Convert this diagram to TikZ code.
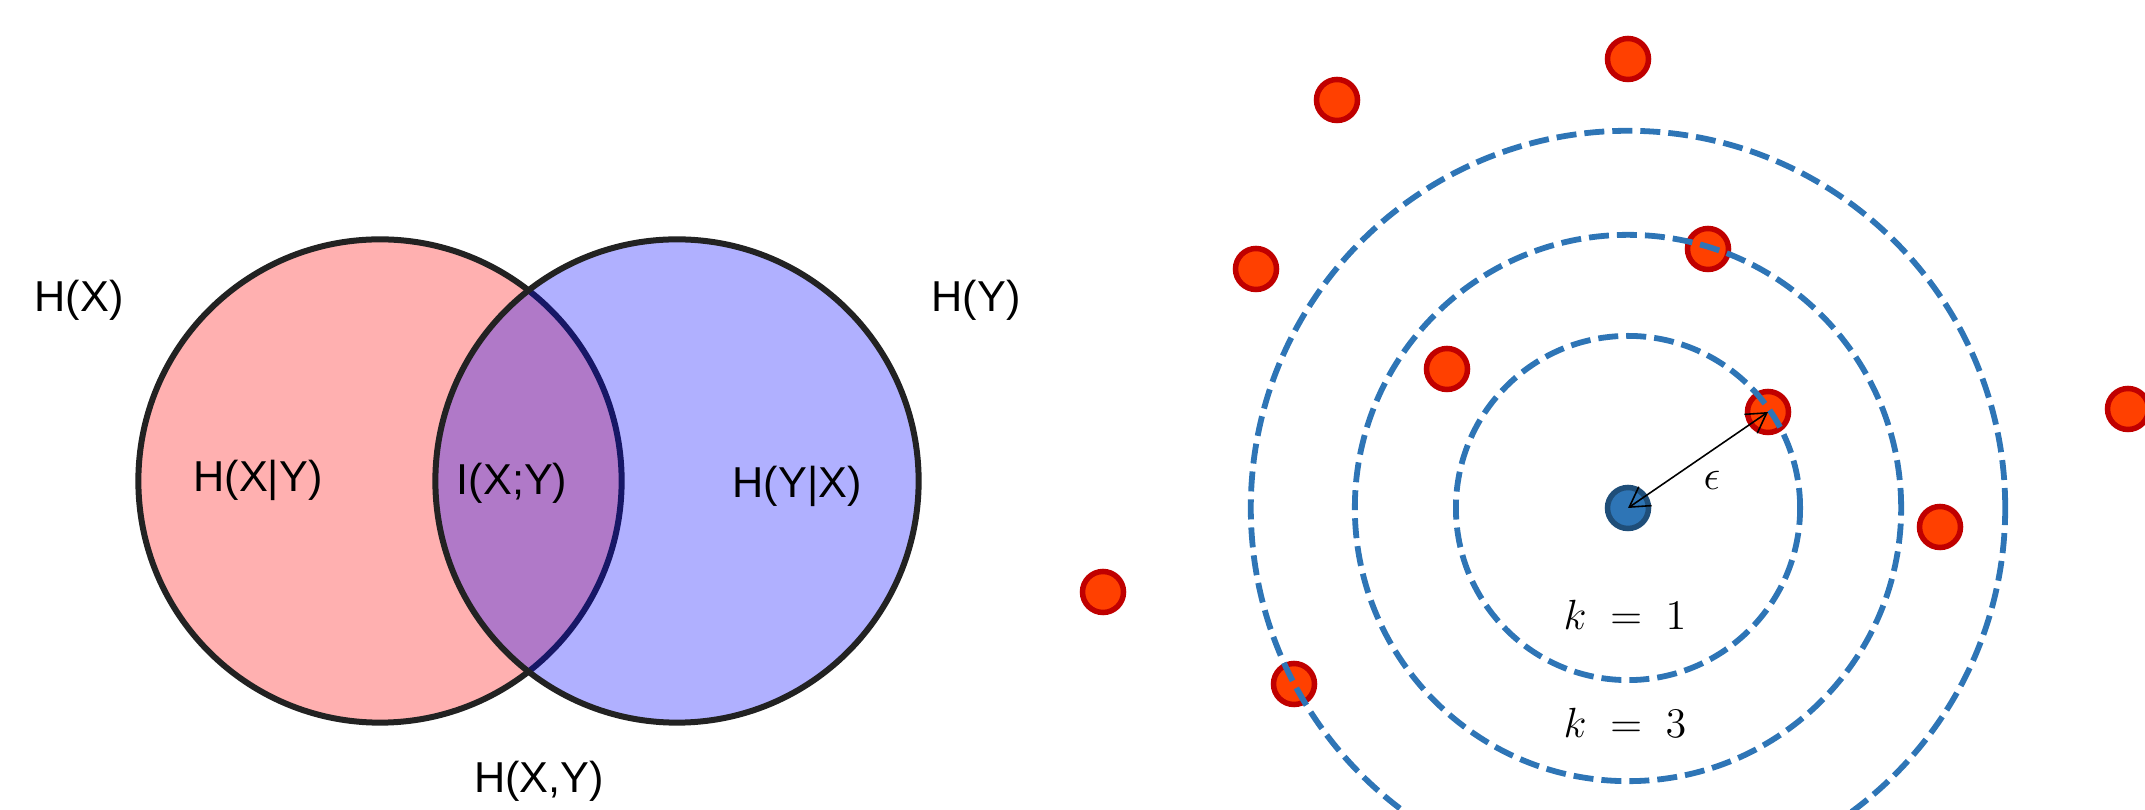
\documentclass[tikz,border=0pt]{standalone}
\usepackage{fontspec}
\setmainfont{Liberation Sans}
\usetikzlibrary{arrows.meta}
\definecolor{vennline}{RGB}{34,34,34}
\definecolor{vennpink}{RGB}{255,176,176}
\definecolor{ringblue}{RGB}{46,117,182}
\definecolor{dotred}{RGB}{255,64,0}
\definecolor{dotredborder}{RGB}{192,0,0}
\definecolor{dotblue}{RGB}{46,117,182}
\definecolor{dotblueborder}{RGB}{31,78,121}
\tikzset{
  vennL/.style={circle, minimum size=4.83cm, inner sep=0pt, fill=vennpink, draw=vennline, line width=0.06cm},
  vennR/.style={circle, minimum size=4.83cm, inner sep=0pt, fill=blue, fill opacity=0.31, draw=vennline, draw opacity=1, line width=0.06cm},
  lbl/.style={inner sep=0pt, anchor=base, font=\fontsize{12.3pt}{14pt}\selectfont},
  mlbl/.style={inner sep=0pt, anchor=base, font=\fontsize{12.6pt}{14pt}\selectfont},
  reddot/.style={circle, minimum size=0.41cm, inner sep=0pt, fill=dotred, draw=dotredborder, line width=0.055cm},
  bluedot/.style={circle, minimum size=0.41cm, inner sep=0pt, fill=dotblue, draw=dotblueborder, line width=0.055cm},
  ring/.style={draw=ringblue, line width=0.058cm, dash pattern=on 0.2cm off 0.08cm},
  eps/.style={{Straight Barb[length=5.5pt,width=6.5pt]}-{Straight Barb[length=5.5pt,width=6.5pt]}, line width=0.45pt, black}
}
\begin{document}
\begin{tikzpicture}[x=0.01cm,y=-0.01cm]
\useasboundingbox (0,0) rectangle (2145,810);
\clip (0,0) rectangle (2145,810);
% Venn diagram
\node[vennL] (A) at (380,481) {};
\node[vennR] (B) at (677,481) {};
\node[lbl] (hx) at (79,312) {H(X)};
\node[lbl] (hy) at (976,312) {H(Y)};
\node[lbl] (hxy) at (258,492) {H(X|Y)};
\node[lbl] (ixy) at (512,495) {I(X;Y)};
\node[lbl] (hyx) at (797,498) {H(Y|X)};
\node[lbl] (hjoint) at (539,793) {H(X,Y)};
% points
\node[reddot] (r1) at (1628,59) {};
\node[reddot] (r2) at (1337,100) {};
\node[reddot] (r3) at (1256,269) {};
\node[reddot] (r4) at (1708,249) {};
\node[reddot] (r5) at (1447,369) {};
\node[reddot] (r6) at (1768,412) {};
\node[reddot] (r7) at (2128,409) {};
\node[reddot] (r8) at (1940,527) {};
\node[reddot] (r9) at (1103,592) {};
\node[reddot] (r10) at (1294,684) {};
\node[bluedot] (c) at (1628,508) {};
% rings
\draw[ring] (c.center) circle[radius=1.72cm];
\draw[ring] (c.center) circle[radius=2.73cm];
\draw[ring] (c.center) circle[radius=3.77cm];
% epsilon arrow
\draw[eps] (c.center) -- (r6.center);
\node[mlbl] (epslbl) at (1712,490) {$\epsilon$};
\node[mlbl] (k1) at (1625,630) {$k\;=\;1$};
\node[mlbl] (k3) at (1625,738) {$k\;=\;3$};
\end{tikzpicture}
\end{document}
